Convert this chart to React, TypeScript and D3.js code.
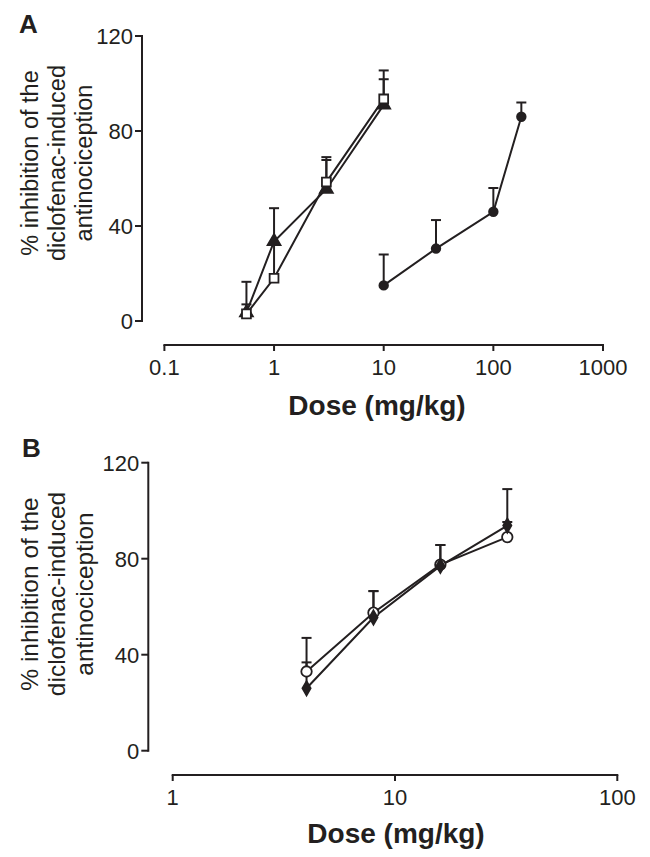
import React from "react";
import * as d3 from "d3";

// ---------- Panel A data ----------
const doseA_square = [0.56, 1, 3, 10];
const valA_square = [3, 18, 58.5, 93.5];
const semA_square = [4, 15, 10.5, 12];

const doseA_triangle = [0.56, 1, 3, 10];
const valA_triangle = [3.5, 33.5, 55.5, 91];
const semA_triangle = [13, 14, 12.3, 10.8];

const doseA_circle = [10, 30, 100, 180];
const valA_circle = [15, 30.5, 46, 86];
const semA_circle = [13, 12, 10, 6];

// ---------- Panel B data ----------
const doseB_openCircle = [4, 8, 16, 32];
const valB_openCircle = [33, 57.5, 77.5, 89];
const semB_openCircle = [14, 9, 8.2, 6.3];

const doseB_diamond = [4, 8, 16, 32];
const valB_diamond = [26, 55.5, 77, 93.8];
const semB_diamond = [10.8, 11, 8.7, 15.2];

// ---------- Tick labels ----------
const yTicks = [0, 40, 80, 120];
const xTicksA = [0.1, 1, 10, 100, 1000];
const xTicksB = [1, 10, 100];
const xTickLabelsA = ["0.1", "1", "10", "100", "1000"];
const xTickLabelsB = ["1", "10", "100"];
const yLabelLines = ["% inhibition of the", "diclofenac-induced", "antinociception"];
const xTitle = "Dose (mg/kg)";

const INK = "#231f20";
const FONT = "'Liberation Sans', Arial, Helvetica, sans-serif";

type Series = {
  dose: number[];
  val: number[];
  sem: number[];
  shape: "square" | "triangle" | "circle" | "openCircle" | "diamond";
};

function Marker({ shape, x, y }: { shape: Series["shape"]; x: number; y: number }) {
  let path = "";
  let fill = INK;
  if (shape === "square") {
    path = d3.symbol(d3.symbolSquare, 78)() as string;
    fill = "#fff";
  } else if (shape === "triangle") {
    path = d3.symbol(d3.symbolTriangle, 72)() as string;
  } else if (shape === "circle") {
    path = d3.symbol(d3.symbolCircle, 58)() as string;
  } else if (shape === "openCircle") {
    path = d3.symbol(d3.symbolCircle, 86)() as string;
    fill = "#fff";
  } else {
    path = d3.symbol(d3.symbolDiamond, 58)() as string;
  }
  return (
    <path
      d={path}
      transform={`translate(${x},${y})`}
      fill={fill}
      stroke={INK}
      strokeWidth={1.8}
    />
  );
}

type PanelProps = {
  letter: string;
  letterPos: [number, number];
  xDomain: [number, number];
  xRange: [number, number];
  yRange: [number, number];
  yAxisX: number;
  xAxisY: number;
  xTicks: number[];
  xTickLabels: string[];
  series: Series[];
  yLabelCenterY: number;
  yLabelBaselines: number[];
  yLabelSize: number;
  xTitleX: number;
  xTitleY: number;
};

function Panel(p: PanelProps) {
  const x = d3.scaleLog().domain(p.xDomain).range(p.xRange);
  const y = d3.scaleLinear().domain([0, 120]).range(p.yRange);
  const line = d3
    .line<[number, number]>()
    .x((d) => x(d[0]))
    .y((d) => y(d[1]));
  return (
    <g>
      <text
        x={p.letterPos[0]}
        y={p.letterPos[1]}
        fontFamily={FONT}
        fontWeight="bold"
        fontSize={26}
        fill={INK}
      >
        {p.letter}
      </text>
      {/* y axis */}
      <line
        x1={p.yAxisX}
        x2={p.yAxisX}
        y1={y(0) + 1}
        y2={y(120) - 1}
        stroke={INK}
        strokeWidth={2}
      />
      {yTicks.map((t) => (
        <g key={"yt" + t}>
          <line
            x1={p.yAxisX - 7}
            x2={p.yAxisX}
            y1={y(t)}
            y2={y(t)}
            stroke={INK}
            strokeWidth={2}
          />
          <text
            x={p.yAxisX - 9}
            y={y(t)}
            dy="0.36em"
            textAnchor="end"
            fontFamily={FONT}
            fontSize={22}
            fill={INK}
          >
            {t}
          </text>
        </g>
      ))}
      {/* y label */}
      <g transform={`translate(0,${p.yLabelCenterY})`}>
        {yLabelLines.map((s, i) => (
          <text
            key={s}
            transform={`translate(${p.yLabelBaselines[i]},0) rotate(-90)`}
            textAnchor="middle"
            fontFamily={FONT}
            fontSize={p.yLabelSize}
            fill={INK}
          >
            {s}
          </text>
        ))}
      </g>
      {/* x axis */}
      <line
        x1={x(p.xDomain[0]) - 1}
        x2={x(p.xDomain[1]) + 1}
        y1={p.xAxisY}
        y2={p.xAxisY}
        stroke={INK}
        strokeWidth={2}
      />
      {p.xTicks.map((t, i) => (
        <g key={"xt" + t}>
          <line
            x1={x(t)}
            x2={x(t)}
            y1={p.xAxisY}
            y2={p.xAxisY + 6}
            stroke={INK}
            strokeWidth={2}
          />
          <text
            x={x(t)}
            y={p.xAxisY + 30}
            textAnchor="middle"
            fontFamily={FONT}
            fontSize={22}
            fill={INK}
          >
            {p.xTickLabels[i]}
          </text>
        </g>
      ))}
      <text
        x={p.xTitleX}
        y={p.xTitleY}
        textAnchor="middle"
        fontFamily={FONT}
        fontWeight="bold"
        fontSize={28}
        fill={INK}
      >
        {xTitle}
      </text>
      {/* error bars */}
      {p.series.map((s, si) =>
        s.dose.map((d, i) => (
          <g key={`e${si}-${i}`}>
            <line
              x1={x(d)}
              x2={x(d)}
              y1={y(s.val[i])}
              y2={y(s.val[i] + s.sem[i])}
              stroke={INK}
              strokeWidth={2}
            />
            <line
              x1={x(d) - 5}
              x2={x(d) + 5}
              y1={y(s.val[i] + s.sem[i])}
              y2={y(s.val[i] + s.sem[i])}
              stroke={INK}
              strokeWidth={2}
            />
          </g>
        ))
      )}
      {/* lines */}
      {p.series.map((s, si) => (
        <path
          key={"l" + si}
          d={line(s.dose.map((d, i) => [d, s.val[i]] as [number, number])) as string}
          fill="none"
          stroke={INK}
          strokeWidth={2}
        />
      ))}
      {/* markers */}
      {p.series.map((s, si) =>
        s.dose.map((d, i) => (
          <Marker key={`m${si}-${i}`} shape={s.shape} x={x(d)} y={y(s.val[i])} />
        ))
      )}
    </g>
  );
}

export default function App() {
  const seriesA: Series[] = [
    { dose: doseA_circle, val: valA_circle, sem: semA_circle, shape: "circle" },
    { dose: doseA_triangle, val: valA_triangle, sem: semA_triangle, shape: "triangle" },
    { dose: doseA_square, val: valA_square, sem: semA_square, shape: "square" },
  ];
  const seriesB: Series[] = [
    { dose: doseB_openCircle, val: valB_openCircle, sem: semB_openCircle, shape: "openCircle" },
    { dose: doseB_diamond, val: valB_diamond, sem: semB_diamond, shape: "diamond" },
  ];
  return (
    <svg
      width={650}
      height={857}
      style={{ position: "absolute", left: 0, top: 0, background: "#fff" }}
    >
      <rect width={650} height={857} fill="#fff" />
      <Panel
        letter="A"
        letterPos={[19, 33]}
        xDomain={[0.1, 1000]}
        xRange={[164.4, 603]}
        yRange={[321, 36]}
        yAxisX={142}
        xAxisY={345}
        xTicks={xTicksA}
        xTickLabels={xTickLabelsA}
        series={seriesA}
        yLabelCenterY={163}
        yLabelBaselines={[38, 65, 92]}
        yLabelSize={23.5}
        xTitleX={377}
        xTitleY={415}
      />
      <Panel
        letter="B"
        letterPos={[22, 457]}
        xDomain={[1, 100]}
        xRange={[172.7, 617.3]}
        yRange={[750.7, 462.7]}
        yAxisX={148.3}
        xAxisY={775}
        xTicks={xTicksB}
        xTickLabels={xTickLabelsB}
        series={seriesB}
        yLabelCenterY={594}
        yLabelBaselines={[38, 65, 93]}
        yLabelSize={24.5}
        xTitleX={396}
        xTitleY={843}
      />
    </svg>
  );
}
